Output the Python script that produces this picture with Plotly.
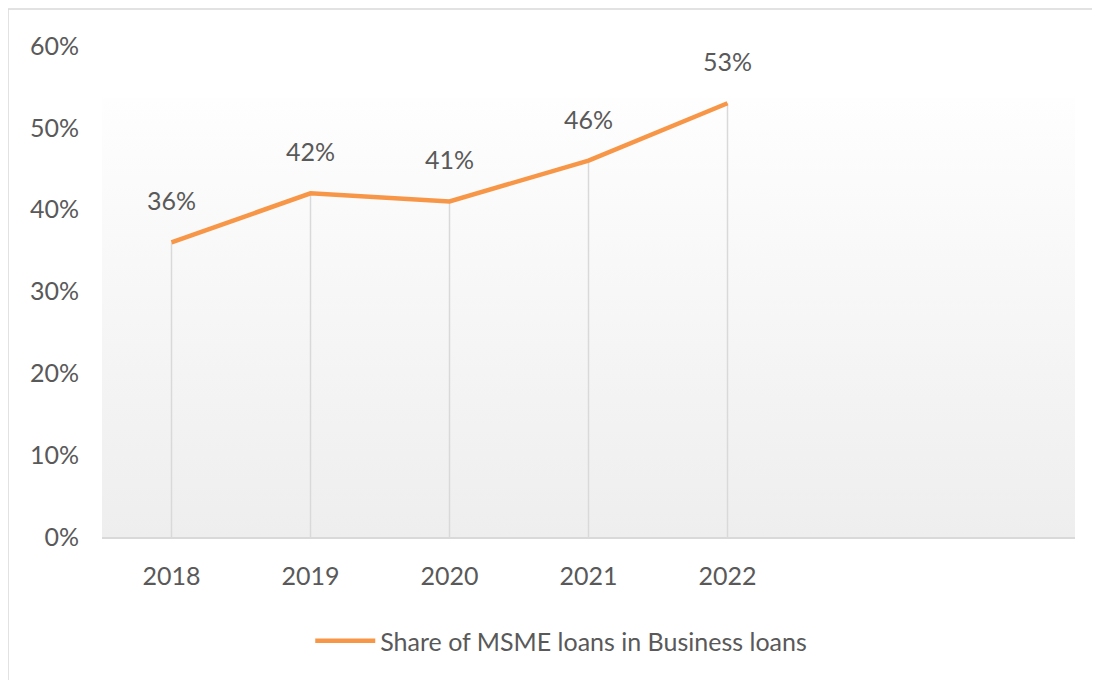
import base64

import plotly.graph_objects as go

years = ["2018", "2019", "2020", "2021", "2022"]
# two empty slots after 2022, as in the original sheet
all_slots = years + [" ", "  "]
msme_share = [0.36, 0.42, 0.41, 0.46, 0.53]
series_name = "Share of MSME loans in Business loans"

LINE_COLOR = "#F79646"
TEXT_COLOR = "#595959"
GRID_COLOR = "#D9D9D9"
FONT = "Lato, 'Open Sans', sans-serif"
FONT_SIZE = 25

# soft vertical gradient for the plot background
svg = (
    '<svg xmlns="http://www.w3.org/2000/svg" width="10" height="100" '
    'viewBox="0 0 10 100" preserveAspectRatio="none">'
    '<defs><linearGradient id="g" x1="0" y1="0" x2="0" y2="1">'
    '<stop offset="0" stop-color="#FEFEFE"/>'
    '<stop offset="1" stop-color="#EEEEEE"/>'
    "</linearGradient></defs>"
    '<rect width="10" height="100" fill="url(#g)"/></svg>'
)
svg_uri = "data:image/svg+xml;base64," + base64.b64encode(svg.encode()).decode()

fig = go.Figure()

fig.add_trace(
    go.Scatter(
        x=years,
        y=msme_share,
        mode="lines",
        name=series_name,
        line=dict(color=LINE_COLOR, width=4.5),
        # drop lines down to the axis
        error_y=dict(
            type="data",
            symmetric=False,
            array=[0] * len(msme_share),
            arrayminus=msme_share,
            color=GRID_COLOR,
            thickness=1.5,
            width=0,
        ),
    )
)

# data labels; category index is used so "2018" is not read as a number
for i, val in enumerate(msme_share):
    fig.add_annotation(
        x=i,
        y=val,
        text=f"{val:.0%}",
        showarrow=False,
        yshift=42,
        font=dict(size=FONT_SIZE, color=TEXT_COLOR, family=FONT),
    )

fig.update_layout(
    width=1100,
    height=680,
    margin=dict(l=94, r=33, t=38, b=151),
    paper_bgcolor="white",
    plot_bgcolor="white",
    font=dict(family=FONT, size=FONT_SIZE, color=TEXT_COLOR),
    showlegend=True,
    legend=dict(
        orientation="h",
        x=0.472,
        xanchor="center",
        y=-0.165,
        yanchor="top",
        font=dict(size=FONT_SIZE, color=TEXT_COLOR),
        itemwidth=60,
    ),
    images=[
        dict(
            source=svg_uri,
            xref="paper",
            yref="paper",
            x=0,
            y=0.894,
            sizex=1,
            sizey=0.894,
            xanchor="left",
            yanchor="top",
            sizing="stretch",
            layer="below",
        )
    ],
    shapes=[
        dict(
            type="rect",
            xref="paper",
            yref="paper",
            x0=-0.0966,
            x1=1.2,
            y0=-0.5,
            y1=1.0754,
            line=dict(color=GRID_COLOR, width=1.5),
            fillcolor="rgba(0,0,0,0)",
        )
    ],
    xaxis=dict(
        type="category",
        categoryorder="array",
        categoryarray=all_slots,
        range=[-0.5, 6.5],
        showgrid=False,
        showline=True,
        linecolor=GRID_COLOR,
        linewidth=2,
        ticks="",
        ticklabelstandoff=16,
        zeroline=False,
    ),
    yaxis=dict(
        range=[0, 0.6],
        dtick=0.1,
        tickformat=".0%",
        showgrid=False,
        zeroline=False,
        showline=False,
        ticks="",
        ticklabelstandoff=22,
    ),
)

fig.write_html("out.html")
